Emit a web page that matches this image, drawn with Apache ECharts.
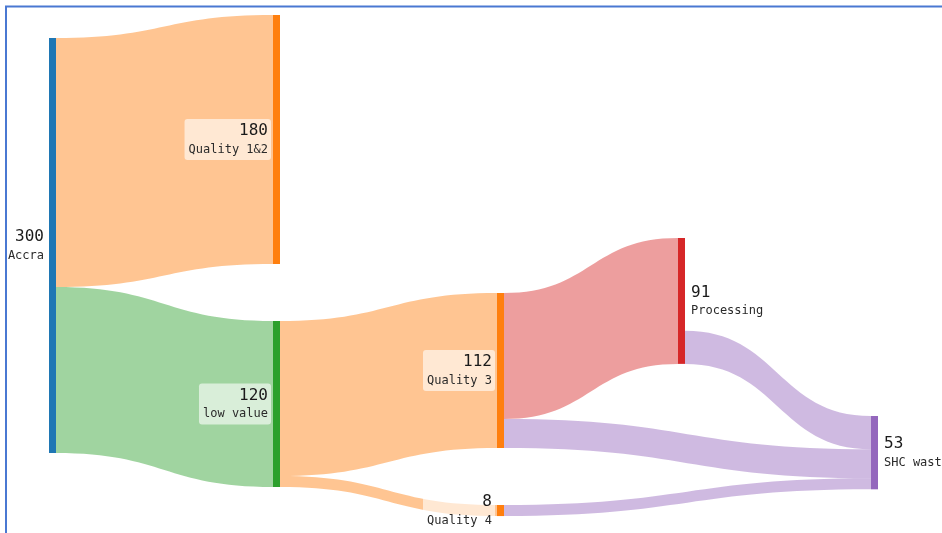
<!DOCTYPE html>
<html>
<head>
<meta charset="utf-8">
<script src="https://cdn.jsdelivr.net/npm/echarts@6/dist/echarts.min.js"></script>
<style>
  html, body { margin: 0; padding: 0; background: #ffffff; }
  #chart { width: 942px; height: 533px; }
</style>
</head>
<body>
<div id="chart"></div>
<script>
// ---- data ----
const nodeNames = ['Accra', 'Quality 1&2', 'low value', 'Quality 3', 'Quality 4', 'Processing', 'SHC waste'];
const linkSources = ['Accra', 'Accra', 'low value', 'low value', 'Quality 3', 'Processing', 'Quality 3', 'Quality 4'];
const linkTargets = ['Quality 1&2', 'low value', 'Quality 3', 'Quality 4', 'Processing', 'SHC waste', 'SHC waste', 'SHC waste'];
const linkValues = [180, 120, 112, 8, 91, 24, 21, 8];

// ---- styling ----
const nodeColors = {
  'Accra': '#1f77b4',
  'Quality 1&2': '#ff7f0e',
  'low value': '#2ca02c',
  'Quality 3': '#ff7f0e',
  'Quality 4': '#ff7f0e',
  'Processing': '#d62728',
  'SHC waste': '#9467bd'
};
// node top-left corners inside the sankey box (px)
const nodePlacement = {
  'Accra': [49, 38],
  'Quality 1&2': [273, 15],
  'low value': [273, 321],
  'Quality 3': [497, 293],
  'Quality 4': [497, 505],
  'Processing': [678, 238],
  'SHC waste': [871, 416]
};
const rightLabelled = ['Processing', 'SHC waste'];

const BOX_W = 942, BOX_H = 423;
const FONT = '"DejaVu Sans Mono", "Liberation Mono", monospace';

// Processing keeps part of its inflow; a hidden spacer link carries that share
// so the visible outflow to SHC waste leaves from the bottom of the node.
const RETAINED = 'Processing retained';
const sumWhere = (arr, name) => linkValues.reduce((s, v, i) => s + (arr[i] === name ? v : 0), 0);
const retainedValue = sumWhere(linkTargets, 'Processing') - sumWhere(linkSources, 'Processing');

function labelFor(name) {
  const right = rightLabelled.includes(name);
  const align = right ? 'left' : 'right';
  return {
    position: right ? 'right' : 'left',
    rich: {
      v: { fontFamily: FONT, fontSize: 16, lineHeight: 20, color: '#1a1a1a', align: align },
      n: { fontFamily: FONT, fontSize: 12, lineHeight: 17, color: '#2a2a2a', align: align }
    }
  };
}

const nodes = nodeNames.map(function (name) {
  const p = nodePlacement[name];
  return {
    name: name,
    localX: p[0] / BOX_W,
    localY: p[1] / BOX_H,
    itemStyle: { color: nodeColors[name], borderWidth: 0, opacity: 1 },
    label: labelFor(name)
  };
});
// spacer node sits before SHC waste in the last column
nodes.splice(nodeNames.indexOf('SHC waste'), 0, {
  name: RETAINED,
  localX: 871 / BOX_W,
  localY: 0,
  itemStyle: { opacity: 0, borderWidth: 0 },
  label: { show: false }
});

const links = [{
  source: 'Processing',
  target: RETAINED,
  value: retainedValue,
  lineStyle: { opacity: 0 }
}];
linkSources.forEach(function (s, i) {
  links.push({ source: s, target: linkTargets[i], value: linkValues[i] });
});

const chart = echarts.init(document.getElementById('chart'), null, { renderer: 'canvas' });
chart.setOption({
  animation: false,
  backgroundColor: '#ffffff',
  graphic: [{
    type: 'rect',
    silent: true,
    z: 100,
    shape: { x: 6, y: 6.5, width: 1000, height: 700 },
    style: { fill: 'none', stroke: '#4a78d2', lineWidth: 2 }
  }],
  series: [{
    type: 'sankey',
    left: 0,
    top: 0,
    width: BOX_W,
    height: BOX_H,
    nodeWidth: 7,
    nodeGap: 8,
    nodeAlign: 'left',
    layoutIterations: 0,
    draggable: false,
    emphasis: { disabled: true },
    data: nodes,
    links: links,
    lineStyle: { color: 'target', opacity: 0.45, curveness: 0.5 },
    label: {
      show: true,
      position: 'left',
      distance: 2,
      backgroundColor: 'rgba(255,255,255,0.6)',
      borderRadius: 3,
      padding: [2, 3, 2, 4],
      formatter: function (p) {
        return '{v|' + p.value + '}\n{n|' + p.name + '}';
      }
    }
  }]
});
</script>
</body>
</html>
